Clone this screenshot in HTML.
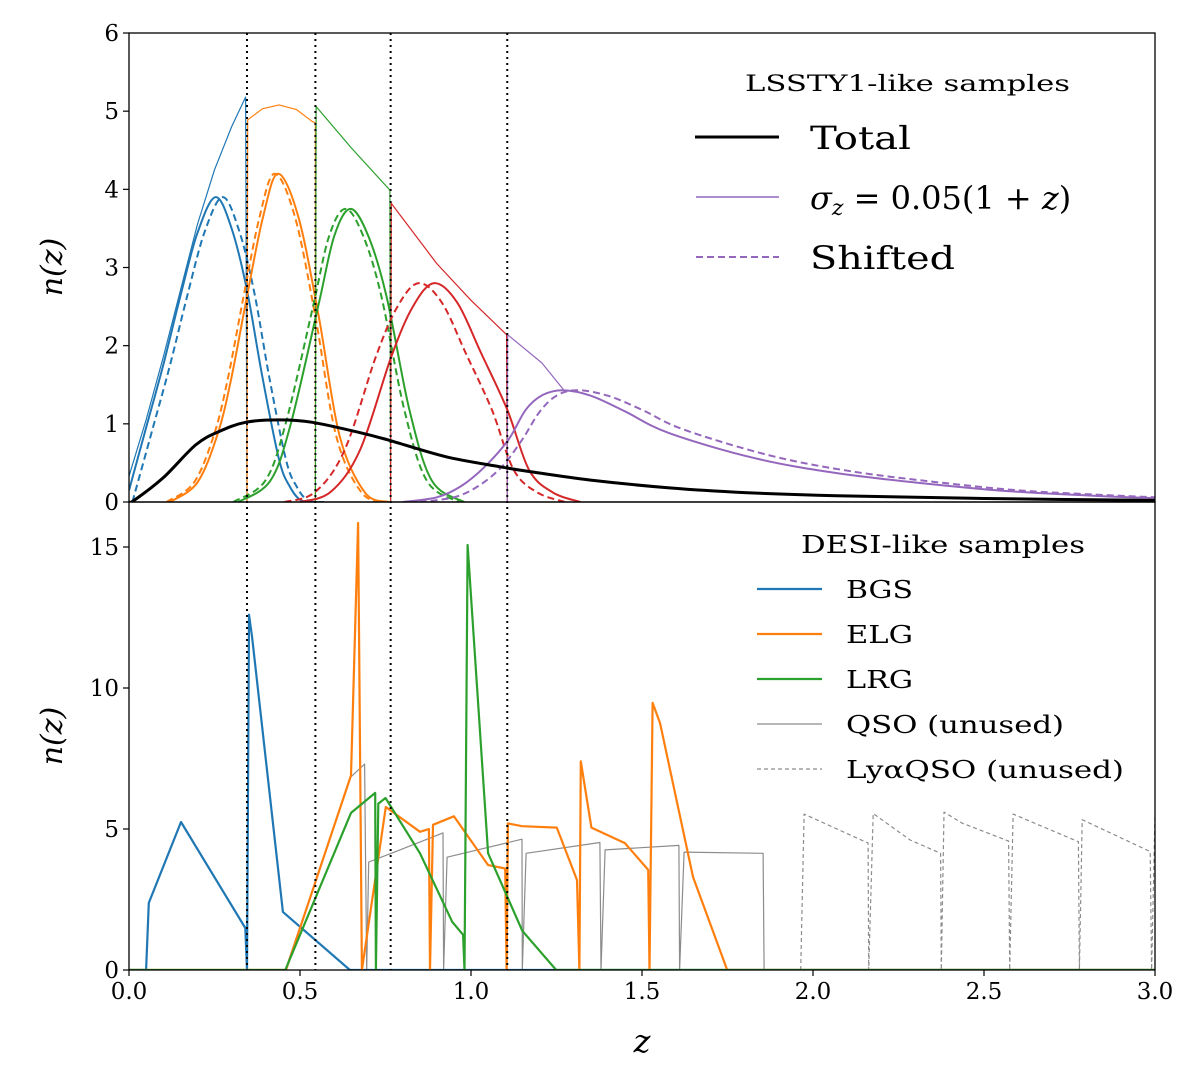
<!DOCTYPE html>
<html><head><meta charset="utf-8"><style>
html,body{margin:0;padding:0;background:#fff;}
svg{display:block;font-family:"DejaVu Serif","Liberation Serif",serif;}
</style></head><body>
<svg id="chart" width="1200" height="1090" viewBox="0 0 1200 1090" xmlns="http://www.w3.org/2000/svg">
<g id="topPanel"></g>
<g id="botPanel"></g>
</svg>
<script>
// ---------- data: top panel (LSSTY1-like) ----------
const binEdges = [0.345, 0.545, 0.765, 1.106];
const totalZ = [0,0.015,0.1,0.195,0.263,0.341,0.439,0.536,0.682,0.76,0.926,1.085,1.17,1.35,1.58,1.8,2.07,2.5,3.0];
const totalN = [0,0.02,0.31,0.73,0.9,1.02,1.05,1.02,0.88,0.79,0.58,0.45,0.39,0.28,0.18,0.12,0.08,0.045,0.02];
const thinBlueZ = [0,0.05,0.1,0.15,0.2,0.25,0.3,0.341,0.345];
const thinBlueN = [0.33,1.05,1.85,2.7,3.55,4.25,4.8,5.18,0];
const thinOrangeZ = [0.345,0.347,0.39,0.439,0.49,0.535,0.545,0.545];
const thinOrangeN = [0,4.89,5.03,5.08,5.02,4.87,4.85,0];
const thinGreenZ = [0.545,0.547,0.65,0.763,0.765];
const thinGreenN = [0,5.06,4.53,3.99,0];
const thinRedZ = [0.765,0.767,0.9,1.0,1.104,1.106];
const thinRedN = [0,3.82,3.05,2.58,2.14,0];
const thinPurpleZ = [1.106,1.107,1.207,1.27];
const thinPurpleN = [0,2.14,1.78,1.44];
const blueZ = [0,0.05,0.1,0.15,0.2,0.253,0.3,0.345,0.39,0.439,0.47,0.503,0.55];
const blueN = [0.15,0.95,1.75,2.63,3.44,3.9,3.5,2.71,1.6,0.54,0.2,0.02,0];
const blueDZ = [0.01,0.07,0.12,0.17,0.22,0.273,0.32,0.365,0.41,0.459,0.49,0.523,0.57];
const blueDN = [0,0.95,1.75,2.63,3.44,3.9,3.5,2.71,1.6,0.54,0.2,0.02,0];
const orangeZ = [0.12,0.2,0.26,0.3,0.345,0.392,0.436,0.495,0.555,0.616,0.69,0.76];
const orangeN = [0,0.25,0.88,1.6,2.63,3.65,4.2,3.65,2.37,0.84,0.12,0];
const orangeDZ = [0.11,0.19,0.25,0.29,0.335,0.382,0.426,0.485,0.545,0.606,0.68,0.75];
const orangeDN = [0,0.25,0.88,1.6,2.63,3.65,4.2,3.65,2.37,0.84,0.12,0];
const greenZ = [0.32,0.413,0.473,0.553,0.6,0.648,0.7,0.753,0.82,0.886,0.98];
const greenN = [0,0.27,1.0,2.5,3.4,3.75,3.4,2.63,1.18,0.27,0];
const greenDZ = [0.305,0.398,0.458,0.538,0.585,0.633,0.685,0.738,0.805,0.871,0.965];
const greenDN = [0,0.27,1.0,2.5,3.4,3.75,3.4,2.63,1.18,0.27,0];
const redZ = [0.5,0.59,0.676,0.767,0.83,0.892,0.96,1.03,1.106,1.17,1.24,1.32];
const redN = [0,0.13,0.67,1.86,2.5,2.8,2.55,1.9,1.18,0.41,0.12,0];
const redDZ = [0.455,0.545,0.631,0.722,0.785,0.847,0.915,0.985,1.061,1.125,1.195,1.275];
const redDN = [0,0.13,0.67,1.86,2.5,2.8,2.55,1.9,1.18,0.41,0.12,0];
const purpleZ = [0.8,0.9,0.97,1.04,1.11,1.16,1.21,1.27,1.35,1.45,1.58,1.83,2.07,2.32,2.57,2.82,3.0];
const purpleN = [0,0.06,0.2,0.45,0.8,1.18,1.37,1.43,1.36,1.16,0.88,0.56,0.37,0.24,0.14,0.08,0.05];
const purpleDZ = [0.85,0.95,1.02,1.09,1.15,1.2,1.25,1.31,1.4,1.5,1.62,1.87,2.1,2.35,2.6,2.85,3.0];
const purpleDN = [0,0.06,0.2,0.45,0.8,1.15,1.36,1.43,1.36,1.18,0.93,0.6,0.4,0.26,0.15,0.09,0.06];
const topYTicks = [0,1,2,3,4,5,6];

// ---------- data: bottom panel (DESI-like) ----------
const bgsZ = [0,0.05,0.058,0.152,0.34,0.345,0.351,0.36,0.45,0.646,3.0];
const bgsN = [0,0,2.38,5.25,1.49,0,12.6,11.8,2.06,0,0];
const elgZ = [0,0.459,0.649,0.67,0.681,0.751,0.851,0.877,0.88,0.889,0.95,1.05,1.1,1.104,1.108,1.149,1.251,1.31,1.317,1.321,1.352,1.45,1.518,1.522,1.531,1.553,1.649,1.749,3.0];
const elgN = [0,0,6.9,15.85,0,5.78,4.9,5.0,0,5.15,5.45,3.72,3.6,0,5.2,5.1,5.05,3.19,0,7.4,5.05,4.5,3.55,0,9.47,8.75,3.3,0,0];
const lrgZ = [0,0.457,0.649,0.72,0.722,0.729,0.75,0.851,0.945,0.977,0.981,0.99,1.05,1.15,1.249,3.0];
const lrgN = [0,0,5.57,6.28,0,5.9,6.1,4.14,1.71,1.25,0,15.07,4.14,1.39,0,0];
const qsoZ = [0.457,0.649,0.689,0.695,0.701,0.767,0.918,0.92,0.93,1.149,1.15,1.161,1.377,1.38,1.392,1.608,1.61,1.623,1.854,1.857];
const qsoN = [0,6.85,7.3,0,3.83,4.14,4.86,0,4.0,4.64,0,4.14,4.52,0,4.26,4.42,0,4.18,4.14,0];
const lyaZ = [1.964,1.974,2.161,2.163,2.176,2.284,2.373,2.375,2.383,2.436,2.572,2.575,2.585,2.776,2.779,2.787,2.986,2.99,3.0];
const lyaN = [0,5.53,4.5,0,5.55,4.61,4.14,0,5.6,5.21,4.57,0,5.53,4.55,0,5.33,4.2,0,5.53];
const botYTicks = [0,5,10,15];
const xTicks = [0,0.5,1.0,1.5,2.0,2.5,3.0];
const xTickLabels = ["0.0","0.5","1.0","1.5","2.0","2.5","3.0"];

// ---------- axes ----------
const X0=129, X1=1155, TT=33, TB=502, BT=502, BB=970;
const xs = z => X0 + (z/3.0)*(X1-X0);
const yTop = n => TB - (n/6)*(TB-TT);
const yBot = n => BB - n*28.2;
const NS="http://www.w3.org/2000/svg";
function mk(tag, parent, attrs){ const e=document.createElementNS(NS,tag); for(const k in attrs) e.setAttribute(k,attrs[k]); parent.appendChild(e); return e; }
const C={blue:"#1f77b4",orange:"#ff7f0e",green:"#2ca02c",red:"#d62728",purple:"#9467bd",gray:"#8c8c8c"};

function pathD(P, smooth){
  if(!smooth) return P.map((p,i)=>(i?"L":"M")+p[0].toFixed(1)+","+p[1].toFixed(1)).join("");
  let d="M"+P[0][0].toFixed(1)+","+P[0][1].toFixed(1);
  for(let i=0;i<P.length-1;i++){
    const p0=P[Math.max(0,i-1)], p1=P[i], p2=P[i+1], p3=P[Math.min(P.length-1,i+2)];
    const c1=[p1[0]+(p2[0]-p0[0])/6, p1[1]+(p2[1]-p0[1])/6];
    const c2=[p2[0]-(p3[0]-p1[0])/6, p2[1]-(p3[1]-p1[1])/6];
    d+="C"+c1[0].toFixed(1)+","+c1[1].toFixed(1)+" "+c2[0].toFixed(1)+","+c2[1].toFixed(1)+" "+p2[0].toFixed(1)+","+p2[1].toFixed(1);
  }
  return d;
}
function line(parent, Z, N, ys, color, w, dash, name, smooth){
  const P = Z.map((z,i)=>[xs(z), ys(N[i])]);
  const p = mk("path", parent, {d:pathD(P,smooth), fill:"none", stroke:color, "stroke-width":w, "stroke-linejoin":"round"});
  if(dash) p.setAttribute("stroke-dasharray", dash);
  
  
  return p;
}

const svgRoot=document.getElementById("chart");
const topG=document.getElementById("topPanel"), botG=document.getElementById("botPanel");
const defs=mk("defs",svgRoot,{});
const cp1=mk("clipPath",defs,{id:"c1"}); mk("rect",cp1,{x:X0,y:TT,width:X1-X0,height:TB-TT});
const cp2=mk("clipPath",defs,{id:"c2"}); mk("rect",cp2,{x:X0,y:BT,width:X1-X0,height:BB-BT});
const gT=mk("g",topG,{"clip-path":"url(#c1)"});
const gB=mk("g",botG,{"clip-path":"url(#c2)"});

line(gT,thinBlueZ,thinBlueN,yTop,C.blue,1.2,null,"blue-bin-envelope");
line(gT,thinOrangeZ,thinOrangeN,yTop,C.orange,1.2,null,"orange-bin-envelope");
line(gT,thinGreenZ,thinGreenN,yTop,C.green,1.2,null,"green-bin-envelope");
line(gT,thinRedZ,thinRedN,yTop,C.red,1.2,null,"red-bin-envelope");
line(gT,thinPurpleZ,thinPurpleN,yTop,C.purple,1.2,null,"purple-bin-envelope");
line(gT,blueZ,blueN,yTop,C.blue,2,null,"blue-bin-nz",true);
line(gT,blueDZ,blueDN,yTop,C.blue,2,"7,4","blue-bin-shifted",true);
line(gT,orangeZ,orangeN,yTop,C.orange,2,null,"orange-bin-nz",true);
line(gT,orangeDZ,orangeDN,yTop,C.orange,2,"7,4","orange-bin-shifted",true);
line(gT,greenZ,greenN,yTop,C.green,2,null,"green-bin-nz",true);
line(gT,greenDZ,greenDN,yTop,C.green,2,"7,4","green-bin-shifted",true);
line(gT,redZ,redN,yTop,C.red,2,null,"red-bin-nz",true);
line(gT,redDZ,redDN,yTop,C.red,2,"7,4","red-bin-shifted",true);
line(gT,purpleZ,purpleN,yTop,C.purple,2,null,"purple-bin-nz",true);
line(gT,purpleDZ,purpleDN,yTop,C.purple,2,"7,4","purple-bin-shifted",true);
line(gT,totalZ,totalN,yTop,"#000",3,null,"total-nz",true);

line(gB,qsoZ,qsoN,yBot,C.gray,1.2,null,"qso-line");
line(gB,lyaZ,lyaN,yBot,C.gray,1.2,"4,3","lya-qso-line");
line(gB,bgsZ,bgsN,yBot,C.blue,2.2,null,"bgs-line");
line(gB,elgZ,elgN,yBot,C.orange,2.2,null,"elg-line");
line(gB,lrgZ,lrgN,yBot,C.green,2.2,null,"lrg-line");

binEdges.forEach(z=>{
  const l=mk("line",svgRoot,{x1:xs(z),x2:xs(z),y1:TT,y2:BB,stroke:"#000","stroke-width":2,"stroke-dasharray":"2,4"});
  
  
});

[[TT,TB,topG],[BT,BB,botG]].forEach(([a,b,g])=>{
  const r=mk("rect",g,{x:X0,y:a,width:X1-X0,height:b-a,fill:"none",stroke:"#000","stroke-width":1.3});
  
  
});

function yt(g, ticks, ys, nm){
  ticks.forEach(v=>{
    const y=ys(v);
    mk("line",g,{x1:X0-6,x2:X0,y1:y,y2:y,stroke:"#000","stroke-width":1.2});
    const t=mk("text",g,{x:X0-10,y:y+8,"text-anchor":"end","font-size":23});
    t.textContent=v;
    
    
  });
}
yt(topG,topYTicks,yTop,"top-y-tick-label");
yt(botG,botYTicks,yBot,"bottom-y-tick-label");
xTicks.forEach((v,i)=>{
  const x=xs(v);
  mk("line",botG,{x1:x,x2:x,y1:BB,y2:BB+6,stroke:"#000","stroke-width":1.2});
  const t=mk("text",botG,{x:x,y:BB+29,"text-anchor":"middle","font-size":23});
  t.textContent=xTickLabels[i];
  
  
});

function lab(g,x,y,txt,rot,nm,size){
  const t=mk("text",g,{x:x,y:y,"text-anchor":"middle","font-size":size,"font-style":"italic"});
  if(rot) t.setAttribute("transform","rotate(-90 "+x+" "+y+")");
  t.textContent=txt;
  
  
}
lab(topG,62,267,"n(z)",true,"top-y-axis-title",30);
lab(botG,62,736,"n(z)",true,"bottom-y-axis-title",30);
lab(botG,642,1052,"z",false,"x-axis-title",32);

function ltext(g,x,y,txt,size,len,nm){
  const t=mk("text",g,{x:x,y:y,"font-size":size,textLength:len,lengthAdjust:"spacingAndGlyphs"});
  t.textContent=txt;
  
  
  return t;
}
function lline(g,x1,x2,y,color,w,dash,nm){
  const l=mk("line",g,{x1:x1,x2:x2,y1:y,y2:y,stroke:color,"stroke-width":w});
  if(dash) l.setAttribute("stroke-dasharray",dash);
  
  
}
const lt=mk("g",topG,{});


ltext(lt,745,91,"LSSTY1-like samples",22,325,"top-legend-title");
lline(lt,695,779,137,"#000",3,null,"legend-total-swatch");
ltext(lt,810,149,"Total",32,101,"legend-total");
lline(lt,696,779,197,C.purple,1.5,null,"legend-sigma-swatch");
const sg=mk("text",lt,{x:810,y:209,"font-size":32});


sg.innerHTML='<tspan font-style="italic">σ</tspan><tspan font-style="italic" font-size="22" dy="6">z</tspan><tspan dy="-6"> = 0.05(1 + </tspan><tspan font-style="italic">z</tspan><tspan>)</tspan>';
lline(lt,696,779,257,C.purple,2,"7,4","legend-shifted-swatch");
ltext(lt,810,269,"Shifted",32,145,"legend-shifted");

const lb=mk("g",botG,{});


ltext(lb,801,553,"DESI-like samples",24,284,"bottom-legend-title");
const items=[["BGS",C.blue,2.2,null,67],["ELG",C.orange,2.2,null,67],["LRG",C.green,2.2,null,67],["QSO (unused)",C.gray,1.2,null,218],["LyαQSO (unused)",C.gray,1.2,"4,3",278]];
items.forEach((it,i)=>{
  const y=589+45*i;
  const key=it[0].toLowerCase().replace(/[^a-z]+/g,"-");
  lline(lb,757,822,y,it[1],it[2],it[3],"legend-"+key+"-swatch");
  ltext(lb,846,y+9,it[0],24,it[4],"legend-"+key);
});
</script>
</body></html>
